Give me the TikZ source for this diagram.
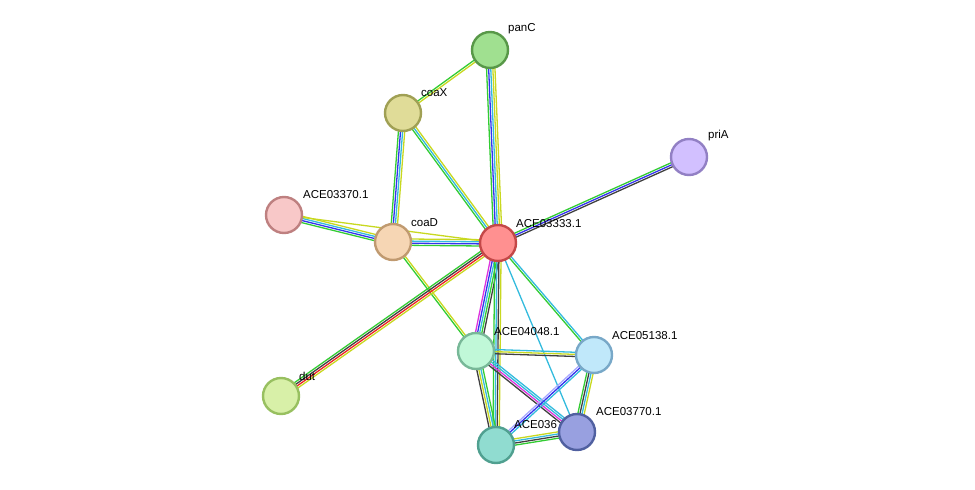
\documentclass[tikz,border=0pt]{standalone}
\usepackage{fontspec}
\setmainfont{Liberation Sans}
\usetikzlibrary{calc}
\definecolor{cg}{HTML}{33CC33}
\definecolor{cb}{HTML}{3333EE}
\definecolor{cc}{HTML}{33BBDD}
\definecolor{cy}{HTML}{C8D820}
\definecolor{ck}{HTML}{404040}
\definecolor{cr}{HTML}{EE2222}
\definecolor{cm}{HTML}{DD33DD}
\definecolor{cl}{HTML}{A8A8FF}
\newcommand\lnk[4]{%
  \foreach \cc [count=\ii] in {#4} {%
    \pgfmathsetmacro\oo{(\ii-(#3+1)/2)*2.1}%
    \draw[color=\cc,line width=1.3pt] ($(#1)!\oo pt!90:(#2)$) -- ($(#2)!\oo pt!-90:(#1)$);
  }}
\begin{document}
\begin{tikzpicture}[x=1pt,y=-1pt,
  nd/.style={circle,minimum size=36pt,inner sep=0pt,line width=2.4pt},
  lb/.style={font=\fontsize{11.5}{13}\selectfont,anchor=south west,inner sep=1pt}]
\useasboundingbox (0,0) rectangle (975,490);
\coordinate (panC) at (490,50);
\coordinate (coaX) at (403,113);
\coordinate (priA) at (689,157);
\coordinate (A370) at (284,215);
\coordinate (coaD) at (393,242);
\coordinate (A333) at (498,243);
\coordinate (dut) at (281,396);
\coordinate (A048) at (476,351);
\coordinate (A138) at (594,355);
\coordinate (A770) at (577,432);
\coordinate (A036) at (496,445);
\lnk{panC}{coaX}{2}{cg,cy}
\lnk{panC}{A333}{5}{cg,cb,cc,cy,cy}
\lnk{coaX}{A333}{3}{cg,cc,cy}
\lnk{coaX}{coaD}{4}{cg,cb,cc,cy}
\lnk{priA}{A333}{3}{cg,cb,ck}
\lnk{A370}{coaD}{4}{cg,cb,cc,cy}
\lnk{A370}{A333}{1}{cy}
\lnk{coaD}{A333}{4}{cg,cb,cc,cy}
\lnk{coaD}{A048}{2}{cg,cy}
\lnk{dut}{A333}{4}{cy,cr,ck,cg}
\lnk{A333}{A048}{5}{cm,cb,cc,cg,ck}
\lnk{A333}{A036}{4}{cg,cc,ck,cy}
\lnk{A333}{A770}{1}{cc}
\lnk{A333}{A138}{2}{cg,cc}
\lnk{A048}{A138}{3}{ck,cy,cc}
\lnk{A048}{A036}{4}{ck,cy,cc,cg}
\lnk{A048}{A770}{4}{ck,cm,cc,cc}
\lnk{A138}{A036}{3}{cl,cb,cc}
\lnk{A138}{A770}{4}{cg,ck,cc,cy}
\lnk{A036}{A770}{4}{cg,ck,cc,cy}
\node[lb] at (513,430) {ACE036};
\node[nd,fill={rgb,255:red,160;green,224;blue,144},draw={rgb,255:red,88;green,152;blue,72}] (nPanC) at (panC) {};
\node[nd,fill={rgb,255:red,224;green,220;blue,152},draw={rgb,255:red,160;green,160;blue,84}] (nCoaX) at (coaX) {};
\node[nd,fill={rgb,255:red,210;green,192;blue,255},draw={rgb,255:red,146;green,128;blue,196}] (nPriA) at (priA) {};
\node[nd,fill={rgb,255:red,248;green,200;blue,200},draw={rgb,255:red,190;green,128;blue,128}] (n370) at (A370) {};
\node[nd,fill={rgb,255:red,246;green,214;blue,180},draw={rgb,255:red,192;green,154;blue,112}] (nCoaD) at (coaD) {};
\node[nd,fill={rgb,255:red,255;green,144;blue,144},draw={rgb,255:red,196;green,72;blue,72}] (n333) at (A333) {};
\node[nd,fill={rgb,255:red,216;green,240;blue,168},draw={rgb,255:red,152;green,192;blue,96}] (nDut) at (dut) {};
\node[nd,fill={rgb,255:red,192;green,248;blue,216},draw={rgb,255:red,120;green,184;blue,152}] (n048) at (A048) {};
\node[nd,fill={rgb,255:red,192;green,232;blue,250},draw={rgb,255:red,120;green,168;blue,200}] (n138) at (A138) {};
\node[nd,fill={rgb,255:red,152;green,160;blue,224},draw={rgb,255:red,80;green,96;blue,160}] (n770) at (A770) {};
\node[nd,fill={rgb,255:red,144;green,220;blue,208},draw={rgb,255:red,80;green,160;blue,144}] (n036) at (A036) {};
\node[lb] at (507,35) {panC};
\node[lb] at (420,98) {coaX};
\node[lb] at (707,142) {priA};
\node[lb] at (302,200) {ACE03370.1};
\node[lb] at (410,228) {coaD};
\node[lb] at (515,229) {ACE03333.1};
\node[lb] at (298,382) {dut};
\node[lb] at (493,337) {ACE04048.1};
\node[lb] at (611,341) {ACE05138.1};
\node[lb] at (595,417) {ACE03770.1};
\end{tikzpicture}
\end{document}
